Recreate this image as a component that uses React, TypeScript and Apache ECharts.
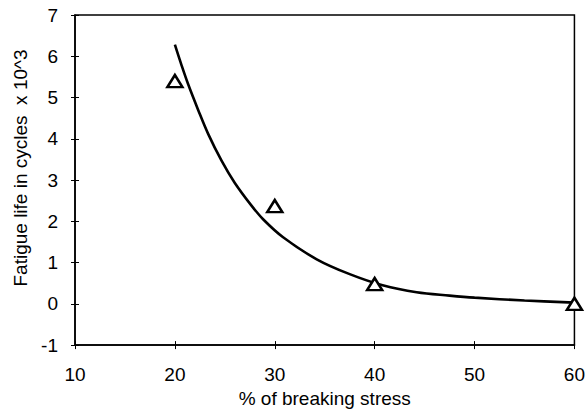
import React, { useEffect, useRef } from "react";
import * as echarts from "echarts";

const xTicks = [10, 20, 30, 40, 50, 60];
const yTicks = [-1, 0, 1, 2, 3, 4, 5, 6, 7];

// measured points (% of breaking stress, fatigue life x 10^3)
const measuredX = [20, 30, 40, 60];
const measuredY = [5.4, 2.37, 0.48, 0.0];

// fitted curve
const curveX = [20, 20.67, 21.33, 22.33, 23.33, 24.67, 26, 27.67, 28.83, 30.8, 34.2, 37.5, 40.8, 44.2, 47.5, 50, 55, 60];
const curveY = [6.28, 5.78, 5.32, 4.7, 4.12, 3.47, 2.93, 2.38, 2.05, 1.62, 1.08, 0.72, 0.45, 0.28, 0.2, 0.15, 0.08, 0.03];

const xName = "% of breaking stress";
const yName = "Fatigue life in cycles  x 10^3";

export default function App() {
  const ref = useRef<HTMLDivElement>(null);
  useEffect(() => {
    if (!ref.current) return;
    const chart = echarts.init(ref.current, null, { renderer: "svg" });
    const font = "Liberation Sans, Arial, sans-serif";
    const label = { color: "#000", fontSize: 19, fontFamily: font };
    chart.setOption({
      animation: false,
      backgroundColor: "#fff",
      grid: { left: 75, right: 13, top: 15, bottom: 63, containLabel: false, show: true, borderColor: "#000", borderWidth: 1.5, backgroundColor: "transparent" },
      xAxis: [
        {
          type: "value",
          min: xTicks[0],
          max: xTicks[xTicks.length - 1],
          interval: 10,
          name: xName,
          nameLocation: "middle",
          nameGap: 40,
          nameTextStyle: { ...label },
          axisLine: { show: true, onZero: false, lineStyle: { color: "#000", width: 1.5 } },
          axisTick: { show: true, length: 4, lineStyle: { color: "#000" } },
          axisLabel: { ...label, margin: 20 },
          splitLine: { show: false },
        },
        {
          type: "value",
          position: "bottom",
          min: xTicks[0],
          max: xTicks[xTicks.length - 1],
          interval: 10,
          axisLine: { show: false, onZero: false },
          axisTick: { show: true, inside: true, length: 4, lineStyle: { color: "#000" } },
          axisLabel: { show: false },
          splitLine: { show: false },
        },
      ],
      yAxis: [
        {
          type: "value",
          min: yTicks[0],
          max: yTicks[yTicks.length - 1],
          interval: 1,
          axisLine: { show: true, onZero: false, lineStyle: { color: "#000", width: 1.5 } },
          axisTick: { show: true, length: 4, lineStyle: { color: "#000" } },
          axisLabel: { ...label, margin: 17 },
          splitLine: { show: false },
        },
        {
          type: "value",
          position: "left",
          min: yTicks[0],
          max: yTicks[yTicks.length - 1],
          interval: 1,
          axisLine: { show: false, onZero: false },
          axisTick: { show: true, inside: true, length: 4, lineStyle: { color: "#000" } },
          axisLabel: { show: false },
          splitLine: { show: false },
        },
      ],
      graphic: [
        {
          type: "text",
          x: 20,
          y: 168,
          rotation: Math.PI / 2,
          style: {
            text: yName,
            fill: "#000",
            font: `19px ${font}`,
            align: "center",
            verticalAlign: "middle",
          },
        },
      ],
      series: [
        {
          type: "line",
          data: curveX.map((x, i) => [x, curveY[i]]),
          smooth: 0.35,
          showSymbol: false,
          lineStyle: { color: "#000", width: 2.6 },
          z: 2,
        },
        {
          type: "scatter",
          data: measuredX.map((x, i) => [x, measuredY[i]]),
          symbol: "triangle",
          symbolSize: [15, 12],
          itemStyle: { color: "#fff", borderColor: "#000", borderWidth: 2.5, opacity: 1 },
          z: 3,
        },
      ],
    });
    return () => chart.dispose();
  }, []);
  return <div ref={ref} style={{ width: 588, height: 413, position: "absolute", left: 0, top: 0 }} />;
}
